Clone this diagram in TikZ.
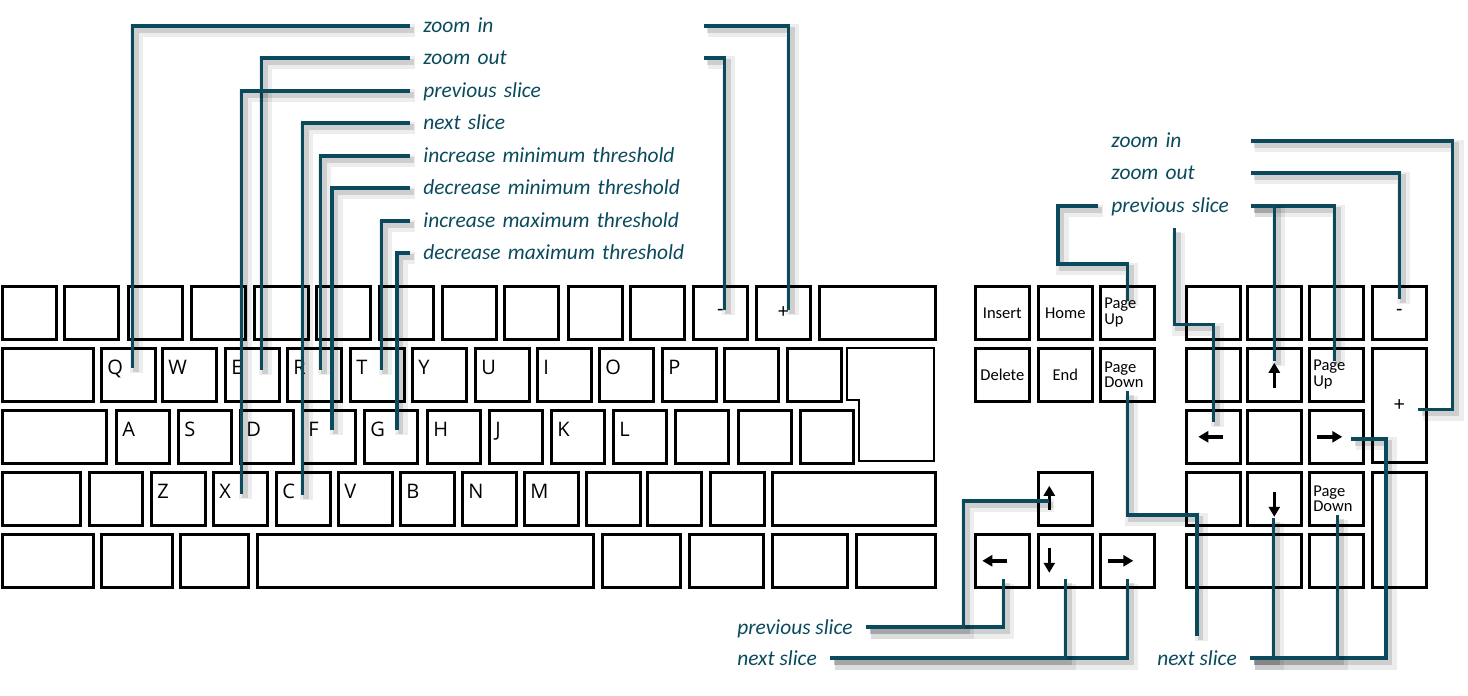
\documentclass[tikz,border=0pt]{standalone}
\usepackage{fontspec}
\setmainfont{Carlito}
\newfontfamily\keyfont{Open Sans}
\usetikzlibrary{arrows.meta,calc,positioning}
\definecolor{leadc}{RGB}{10,74,92}
\newlength\px
\setlength\px{0.02cm}

\begin{document}
\begin{tikzpicture}[
    x=0.02cm, y=-0.02cm,
    key/.style={draw, line width=0.052cm, anchor=north west, minimum height=1.06cm, inner sep=0, font=\keyfont\fontsize{11.4pt}{12pt}\selectfont},
    keychar/.style={anchor=west, inner sep=0, xshift=0.14cm, yshift=0.14cm, font=\keyfont\fontsize{11.4pt}{12pt}\selectfont, text height=0.72em, text depth=0pt},
    navkey/.style={key, minimum width=54*\px, font=\fontsize{9.4pt}{9pt}\selectfont},
    pagekey/.style={navkey, align=left, text width=0.92cm, inner xsep=0.08cm},
    keyarrow/.style={-{Triangle[length=0.2cm,width=0.22cm]}, line width=0.07cm},
    lead/.style={draw=leadc, line width=0.07cm,
        preaction={draw=black, opacity=0.07, line width=0.26cm, transform canvas={shift={(0.09cm,-0.1cm)}}},
        preaction={draw=black, opacity=0.13, line width=0.11cm, transform canvas={shift={(0.07cm,-0.08cm)}}}},
    lbl/.style={text=leadc, font=\fontsize{12.2pt}{14pt}\selectfont\itshape, anchor=west, inner xsep=0.26cm, inner ysep=0.24cm, text height=0.34cm, text depth=0.06cm}
]
\useasboundingbox (0,0) rectangle (1468,696);

% main block, top row
\foreach \x/\w in {1/54,63/54,127/54,190/54,253/54,315/54,378/54,441/54,503/54,567/54,629/54,818/116}
  \node[key, minimum width=\w*\px] (top\x) at (\x,285) {};
\node[key, minimum width=54*\px] (kminus) at (692,285) {-};
\node[key, minimum width=54*\px] (kplus) at (755,285) {+};

% QWERTY row
\node[key, minimum width=91*\px] (tab) at (1,347) {};
\foreach \x/\t in {100/Q,161/W,224/E,286/R,349/T,411/Y,474/U,536/I,598/O,661/P}
  \node[key, minimum width=54*\px, label={[keychar]west:\t}] (k\t) at (\x,347) {};
\foreach \x in {723,786}
  \node[key, minimum width=54*\px] (br\x) at (\x,347) {};
\draw[line width=0.052cm] (847,348) -- (934,348) -- (934,461) -- (859,461) -- (859,400) -- (847,400) -- cycle;

% home row
\node[key, minimum width=104*\px] (caps) at (1,409) {};
\foreach \x/\t in {115/A,177/S,239/D,301/F,363/G,426/H,488/J,550/K,612/L}
  \node[key, minimum width=53*\px, label={[keychar]west:\t}] (k\t) at (\x,409) {};
\foreach \x in {674,737,799}
  \node[key, minimum width=53*\px] (hm\x) at (\x,409) {};

% bottom letter row
\node[key, minimum width=78*\px] (lshift) at (1,471) {};
\node[key, minimum width=53*\px] (bsl) at (88,471) {};
\foreach \x/\t in {150/Z,212/X,275/C,337/V,399/B,461/N,523/M}
  \node[key, minimum width=54*\px, label={[keychar]west:\t}] (k\t) at (\x,471) {};
\foreach \x in {585,646,709}
  \node[key, minimum width=54*\px] (pn\x) at (\x,471) {};
\node[key, minimum width=163*\px] (rshift) at (771,471) {};

% space row
\foreach \x/\w in {1/91,100/71,179/68,256/336,601/78,688/74,771/75,855/79}
  \node[key, minimum width=\w*\px] (sp\x) at (\x,533) {};

% navigation block
\node[navkey] (kins) at (974,285) {Insert};
\node[navkey] (khome) at (1037,285) {Home};
\node[pagekey] (kpgup) at (1099,285) {Page\\Up};
\node[navkey] (kdel) at (974,347) {Delete};
\node[navkey] (kend) at (1037,347) {End};
\node[pagekey] (kpgdn) at (1099,347) {Page\\Down};
\node[navkey] (knup) at (1037,471) {};
\node[navkey] (knleft) at (974,533) {};
\node[navkey] (kndown) at (1037,533) {};
\node[navkey] (knright) at (1099,533) {};

% numeric pad
\foreach \x in {1185,1246,1308}
  \node[navkey] (np\x) at (\x,285) {};
\node[key, minimum width=54*\px] (kpminus) at (1371,285) {-};
\node[navkey] (np1185b) at (1185,347) {};
\node[navkey] (kpup) at (1246,347) {};
\node[pagekey] (kppgup) at (1308,347) {Page\\Up};
\node[key, minimum width=54*\px, minimum height=2.28cm] (kpplus) at (1371,347) {+};
\node[navkey] (kpleft) at (1185,409) {};
\node[navkey] (kpfive) at (1246,409) {};
\node[navkey] (kpright) at (1308,409) {};
\node[navkey] (np1185d) at (1185,471) {};
\node[navkey] (kpdown) at (1246,471) {};
\node[pagekey] (kppgdn) at (1308,471) {Page\\Down};
\node[key, minimum width=54*\px, minimum height=2.3cm] (kpenter) at (1371,471) {};
\node[key, minimum width=115*\px] (kpzero) at (1185,533) {};
\node[navkey] (kpdot) at (1308,533) {};

% arrow glyphs
\draw[keyarrow] ($(kpup.center)+(0,13)$) -- ($(kpup.center)+(0,-12)$);
\draw[keyarrow] ($(kpleft.center)+(10,0)$) -- ($(kpleft.center)+(-15,0)$);
\draw[keyarrow] ($(kpright.center)+(-19,0)$) -- ($(kpright.center)+(6,0)$);
\draw[keyarrow] ($(kpdown.center)+(0,-7)$) -- ($(kpdown.center)+(0,18)$);
\draw[keyarrow] ($(knup.center)+(-16,11)$) -- ($(knup.center)+(-16,-13)$);
\draw[keyarrow] ($(knleft.center)+(5,0)$) -- ($(knleft.center)+(-20,0)$);
\draw[keyarrow] ($(kndown.center)+(-16,-13)$) -- ($(kndown.center)+(-16,12)$);
\draw[keyarrow] ($(knright.center)+(-19,0)$) -- ($(knright.center)+(6,0)$);

% labels, main block
\node[lbl, text width=5.34cm] (zin) at (410,26) {zoom in};
\node[lbl, text width=5.34cm] (zout) at (410,58) {zoom out};
\node[lbl, text width=5.34cm] (prev) at (410,91) {previous slice};
\node[lbl, text width=5.34cm] (next) at (410,123) {next slice};
\node[lbl, text width=5.34cm] (incmin) at (410,156) {increase minimum threshold};
\node[lbl, text width=5.34cm] (decmin) at (410,188) {decrease minimum threshold};
\node[lbl, text width=5.34cm] (incmax) at (410,221) {increase maximum threshold};
\node[lbl, text width=5.34cm] (decmax) at (410,253) {decrease maximum threshold};

% labels, numeric pad and arrows
\node[lbl, text width=2.52cm] (zinr) at (1098,141) {zoom in};
\node[lbl, text width=2.52cm] (zoutr) at (1098,173) {zoom out};
\node[lbl, text width=2.52cm] (prevr) at (1098,206) {previous slice};
\node[lbl] (prevb) at (724,627) {previous slice};
\node[lbl] (nextb) at (724,658) {next slice};
\node[lbl] (nextr) at (1144,658) {next slice};

% leads, main block
\draw[lead] (zin.west) -| ($(kQ.center)+(4,-7)$);
\draw[lead] (zout.west) -| ($(kE.center)+(9,-5)$);
\draw[lead] (prev.west) -| ($(kX.center)+(1,-5)$);
\draw[lead] (next.west) -| ($(kC.center)+(-1,-4)$);
\draw[lead] (incmin.west) -| ($(kR.center)+(6,-5)$);
\draw[lead] (decmin.west) -| ($(kF.center)+(3,-7)$);
\draw[lead] (incmax.west) -| ($(kT.center)+(4,-5)$);
\draw[lead] (decmax.west) -| ($(kG.center)+(6,-7)$);
\draw[lead] (zin.east) -| ($(kplus.center)+(5,-3)$);
\draw[lead] (zout.east) -| ($(kminus.center)+(4,-3)$);

% leads, numeric pad
\draw[lead] (zinr.east) -- ++(202,0) |- ($(kpplus.center)+(19,4)$);
\draw[lead] (zoutr.east) -| ($(kpminus.center)+(0,-14)$);
\draw[lead] (prevr.west) -- ++(-40,0) -- ++(0,58) -| ($(kpgup.center)+(0,-12)$);
\draw[lead] (prevr.south) -- ++(0,96) -| ($(kpleft.center)+(0,-15)$);
\draw[lead] (prevr.east) -| ($(kppgup.center)+(-2,-14)$);
\draw[lead] ($(kpup.center)+(0,-14)$) |- (prevr.east);

% leads, arrow keys
\draw[lead] (prevb.east) -| ($(knleft.center)+(1,18)$);
\draw[lead] ($(knup.center)+(-16,2)$) -- ++(-86,0) |- (prevb.east);
\draw[lead] (nextb.east) -| ($(knright.center)+(0,18)$);
\draw[lead] ($(kndown.center)+(0,18)$) |- (nextb.east);
\draw[lead] ($(kpgdn.center)+(0,16)$) -- ++(0,124) -| (nextr.north);
\draw[lead] (nextr.east) -- ++(136,0) |- ($(kpright.center)+(15,2)$);
\draw[lead] ($(kpdown.center)+(-1,19)$) |- (nextr.east);
\draw[lead] ($(kppgdn.center)+(1,16)$) |- (nextr.east);

\end{tikzpicture}
\end{document}
